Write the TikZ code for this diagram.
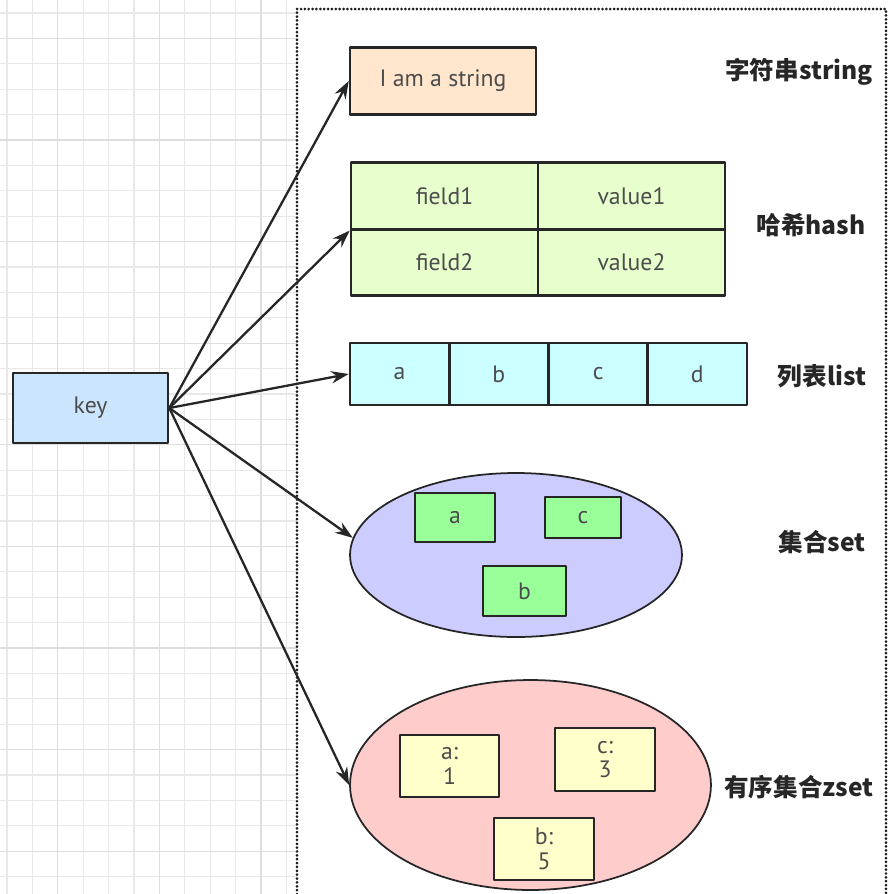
\documentclass[tikz,border=0pt]{standalone}
\usepackage{fontspec}
\setmainfont{PT Sans}
\newfontfamily\cjk{Noto Sans CJK SC}
\usetikzlibrary{arrows.meta,positioning,shapes.geometric}

\definecolor{keyblue}{HTML}{CCE5FF}
\definecolor{strorange}{HTML}{FFE6CC}
\definecolor{hashgreen}{HTML}{E6FFCC}
\definecolor{listcyan}{HTML}{CCFFFF}
\definecolor{setviolet}{HTML}{CCCCFF}
\definecolor{setgreen}{HTML}{99FF99}
\definecolor{zsetpink}{HTML}{FFCCCC}
\definecolor{zsetyellow}{HTML}{FFFFCC}

\tikzset{
  cell/.style={draw=black!85, line width=1.5pt, text=black!70, inner sep=0pt,
    align=center, font=\fontsize{13.5}{14}\selectfont},
  bag/.style={draw=black!85, line width=1pt, ellipse, inner sep=0pt},
  typelabel/.style={font=\cjk\bfseries\fontsize{14}{16}\selectfont, text=black!85},
  link/.style={-{Stealth[length=10pt,width=7pt]}, line width=1.3pt, draw=black!85},
  gridminor/.style={draw=black!9, line width=0.6pt},
  gridmajor/.style={draw=black!13, line width=0.7pt},
}

\begin{document}
\begin{tikzpicture}[x=0.02cm, y=-0.02cm, line cap=round, line join=round]

\useasboundingbox (0,0) rectangle (892,894);

% background grid, left of the frame
\foreach \i in {0,...,11} \draw[gridminor] ({7+25.4*\i},0) -- ({7+25.4*\i},894);
\foreach \j in {0,...,34} \draw[gridminor] (0,{13+25.4*\j}) -- (297,{13+25.4*\j});
\foreach \i in {2,6,10} \draw[gridmajor] ({7+25.4*\i},0) -- ({7+25.4*\i},894);
\foreach \j in {1,5,...,33} \draw[gridmajor] (0,{13+25.4*\j}) -- (297,{13+25.4*\j});

% dotted frame
\draw[line width=1.7pt, dash pattern=on 0pt off 2.2pt, black!90] (297,894) |- (886,9) -- (886,894);

% key
\node[cell, fill=keyblue, minimum width=3.1cm, minimum height=1.4cm] (key) at (90.5,408) {key};

% string
\node[cell, fill=strorange, minimum width=3.72cm, minimum height=1.34cm] (str) at (443,81) {I am a string};

% hash
\node[cell, fill=hashgreen, minimum width=3.74cm, minimum height=1.33cm] (f1) at (444.5,196) {field1};
\node[cell, fill=hashgreen, minimum width=3.74cm, minimum height=1.33cm] (v1) at (631.5,196) {value1};
\node[cell, fill=hashgreen, minimum width=3.74cm, minimum height=1.33cm] (f2) at (444.5,262.5) {field2};
\node[cell, fill=hashgreen, minimum width=3.74cm, minimum height=1.33cm] (v2) at (631.5,262.5) {value2};

% list
\foreach \t [count=\i] in {a,b,c,d}
  \node[cell, fill=listcyan, minimum width=1.985cm, minimum height=1.24cm] (l\i) at ({350+99.25*(\i-0.5)},374) {\t};

% set
\node[bag, fill=setviolet, minimum width=6.64cm, minimum height=3.28cm] (set) at (516,555) {};
\node[cell, fill=setgreen, minimum width=1.6cm, minimum height=0.98cm] (sa) at (455,517.5) {a};
\node[cell, fill=setgreen, minimum width=1.52cm, minimum height=0.82cm] (sc) at (583,517.5) {c};
\node[cell, fill=setgreen, minimum width=1.66cm, minimum height=1.0cm] (sb) at (524.5,591) {b};

% zset
\node[bag, fill=zsetpink, minimum width=7.22cm, minimum height=4.2cm] (zset) at (530.5,785) {};
\node[cell, fill=zsetyellow, minimum width=1.98cm, minimum height=1.24cm] (za) at (449.5,766) {a:\\1};
\node[cell, fill=zsetyellow, minimum width=2.0cm, minimum height=1.26cm] (zc) at (605,759.5) {c:\\3};
\node[cell, fill=zsetyellow, minimum width=2.0cm, minimum height=1.24cm] (zb) at (544,849) {b:\\5};

% type labels
\node[typelabel] (strlabel) at (799,72) {字符串string};
\node[typelabel] (hashlabel) at (811,225) {哈希hash};
\node[typelabel] (listlabel) at (822,376) {列表list};
\node[typelabel] (setlabel) at (822,542) {集合set};
\node[typelabel] (zsetlabel) at (799,787) {有序集合zset};

% arrows from key
\draw[link] (key.east) -- (str.west);
\draw[link] (key.east) -- (f1.south west);
\draw[link] (key.east) -- (l1.west);
\draw[link] (key.east) -- (set.174);
\draw[link] (key.east) -- (zset.west);

\end{tikzpicture}
\end{document}
